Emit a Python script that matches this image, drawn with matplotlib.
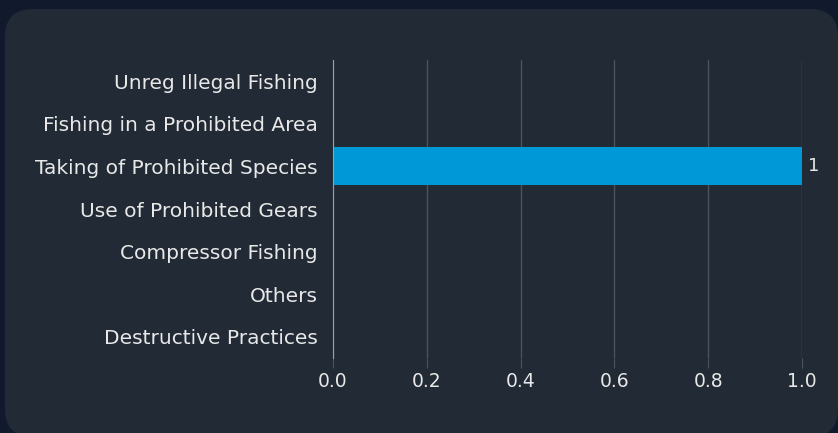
import matplotlib.pyplot as plt
from matplotlib.patches import FancyBboxPatch

categories = ["Unreg Illegal Fishing", "Fishing in a Prohibited Area",
              "Taking of Prohibited Species", "Use of Prohibited Gears",
              "Compressor Fishing", "Others", "Destructive Practices"]
counts = [0, 0, 1, 0, 0, 0, 0]
xticks = [0.0, 0.2, 0.4, 0.6, 0.8, 1.0]

plt.rcParams["font.family"] = ["DejaVu Sans"]

fig = plt.figure(figsize=(8.38, 4.33), dpi=100)
fig.patch.set_facecolor("#111a2d")

# rounded card behind the chart (pixel coords)
W, H = 838, 433
card = FancyBboxPatch((5 / W, -4 / H), 833 / W, 428 / H,
                      boxstyle="round,pad=0,rounding_size=%f" % (28 / W),
                      transform=fig.transFigure, facecolor="#212a35",
                      edgecolor="none", mutation_aspect=W / H, zorder=-10)
fig.patches.append(card)

ax = fig.add_axes([333 / W, (H - 358) / H, (802 - 333) / W, 298 / H])
ax.set_facecolor("none")

y = list(range(len(categories)))
bars = ax.barh(y, counts, height=0.89, color="#0098d6", zorder=3)
for b, v in zip(bars, counts):
    if v > 0:
        ax.text(b.get_width() + 0.012, b.get_y() + b.get_height() / 2, str(v),
                va="center", ha="left", color="#e8e8e8", fontsize=13)

ax.set_ylim(len(categories) - 0.5, -0.5)
ax.set_xlim(0, 1.0)
ax.set_yticks(y)
ax.set_yticklabels(categories, color="#e8e8e8", fontsize=14.5)
ax.set_xticks(xticks)
ax.set_xticklabels([f"{t:.1f}" for t in xticks], color="#e8e8e8", fontsize=13.5)

ax.grid(axis="x", color="#4b535d", linewidth=1, zorder=0)
for s in ["top", "right", "bottom"]:
    ax.spines[s].set_visible(False)
ax.spines["left"].set_color("#9aa0a6")
ax.spines["left"].set_zorder(4)
ax.tick_params(axis="y", length=0, pad=11)
ax.tick_params(axis="x", length=7, color="#4b535d", pad=3)

fig.savefig("out.png", dpi=100, facecolor=fig.get_facecolor())
